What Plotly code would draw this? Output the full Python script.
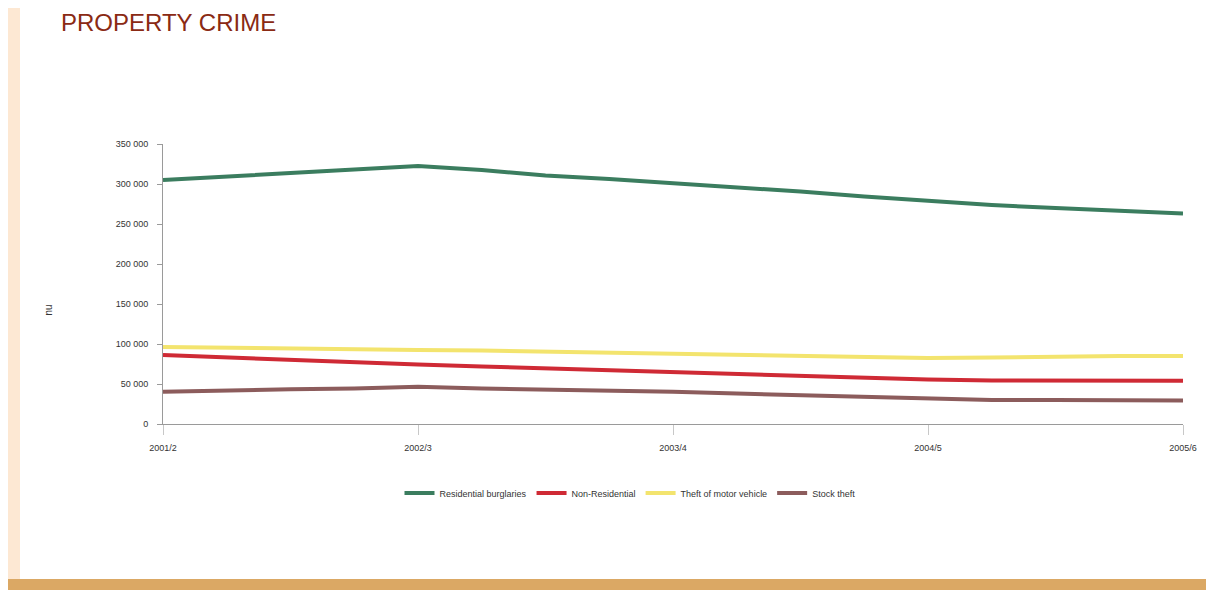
"""Property crime trend chart."""

import plotly.graph_objects as go

# Colours
TITLE_RED = "#8a2a14"
AXIS_GREY = "#9a9a9a"
TICK_TXT = "#333333"
PEACH = "#fde8d3"
OCHRE = "#dba864"

# Data (quarterly readings, 2001/2 .. 2005/6)
years = ["2001/2", "2002/3", "2003/4", "2004/5", "2005/6"]
quarter = list(range(17))

residential = [305000, 309400, 313750, 317500, 322500, 317500, 310600, 306250, 301250,
               295600, 290600, 284400, 278750, 273750, 270000, 266250, 263100]
non_residential = [86250, 83100, 80000, 76900, 74400, 71900, 69400, 66900, 65000,
                   62500, 60600, 58100, 55600, 54400, 54100, 54100, 54100]
motor_vehicle = [96250, 95000, 94400, 93750, 92500, 91900, 90600, 89400, 88750,
                 86900, 85600, 83750, 82500, 83100, 84400, 85000, 85000]
stock_theft = [40400, 42500, 43400, 44400, 46600, 44400, 43400, 41900, 40400,
               38100, 36250, 34400, 31900, 30000, 30000, 30000, 29400]

series = [
    ("Residential burglaries", residential, "#3b7d5f"),
    ("Non-Residential", non_residential, "#cf2a35"),
    ("Theft of motor vehicle", motor_vehicle, "#f3e46e"),
    ("Stock theft", stock_theft, "#8c5c5c"),
]

y_ticks = list(range(0, 350001, 50000))

# page is drawn with an 8px body margin; plot area spans page x 163-1183, y 144-424
def px(x):
    return (x - 163) / 1020


def py(y):
    return (424 - y) / 280


fig = go.Figure()
for name, vals, color in series:
    fig.add_trace(go.Scatter(
        x=quarter,
        y=vals,
        name=name,
        mode="lines",
        line={"color": color, "width": 4},
    ))

# page decorations
fig.add_shape(type="rect", xref="paper", yref="paper",
              x0=px(0), x1=px(20), y0=py(579), y1=py(5),
              fillcolor=PEACH, line_width=0, layer="below")
fig.add_shape(type="rect", xref="paper", yref="paper",
              x0=px(5), x1=px(1214), y0=py(590), y1=py(579),
              fillcolor=OCHRE, line_width=0, layer="below")

fig.add_annotation(
    text="PROPERTY CRIME", xref="paper", yref="paper",
    x=px(60), y=py(8.5), xanchor="left", yanchor="top",
    showarrow=False, borderpad=0,
    font={"family": "Arial, Liberation Sans, sans-serif", "size": 24, "color": TITLE_RED},
)
fig.add_annotation(
    text="nu", xref="paper", yref="paper",
    x=px(42), y=py(310), textangle=90,
    showarrow=False,
    font={"family": "Arial, sans-serif", "size": 10, "color": TICK_TXT},
)

fig.update_layout(
    width=1214,
    height=590,
    margin={"l": 155, "r": 39, "t": 136, "b": 174},
    paper_bgcolor="white",
    plot_bgcolor="white",
    font={"family": "Arial, Liberation Sans, sans-serif", "color": TICK_TXT},
    showlegend=True,
    legend={
        "orientation": "h",
        "x": px(630), "xanchor": "center",
        "y": py(493), "yanchor": "middle",
        "font": {"size": 9, "color": TICK_TXT},
        "itemwidth": 30,
    },
    xaxis={
        "range": [0, 16],
        "tickmode": "array",
        "tickvals": [0, 4, 8, 12, 16],
        "ticktext": years,
        "showgrid": False,
        "zeroline": False,
        "showline": True,
        "linecolor": AXIS_GREY,
        "ticks": "outside",
        "ticklen": 10,
        "tickcolor": "#c8c8c8",
        "ticklabelstandoff": 5,
        "tickfont": {"size": 9, "color": TICK_TXT},
    },
    yaxis={
        "range": [0, 350000],
        "tickmode": "array",
        "tickvals": y_ticks,
        "ticktext": [f"{v:,}".replace(",", " ") for v in y_ticks],
        "showgrid": False,
        "zeroline": False,
        "showline": True,
        "linecolor": AXIS_GREY,
        "ticks": "outside",
        "ticklen": 5,
        "tickcolor": AXIS_GREY,
        "ticklabelstandoff": 7,
        "tickfont": {"size": 9, "color": TICK_TXT},
    },
)

fig.write_html("out.html")
